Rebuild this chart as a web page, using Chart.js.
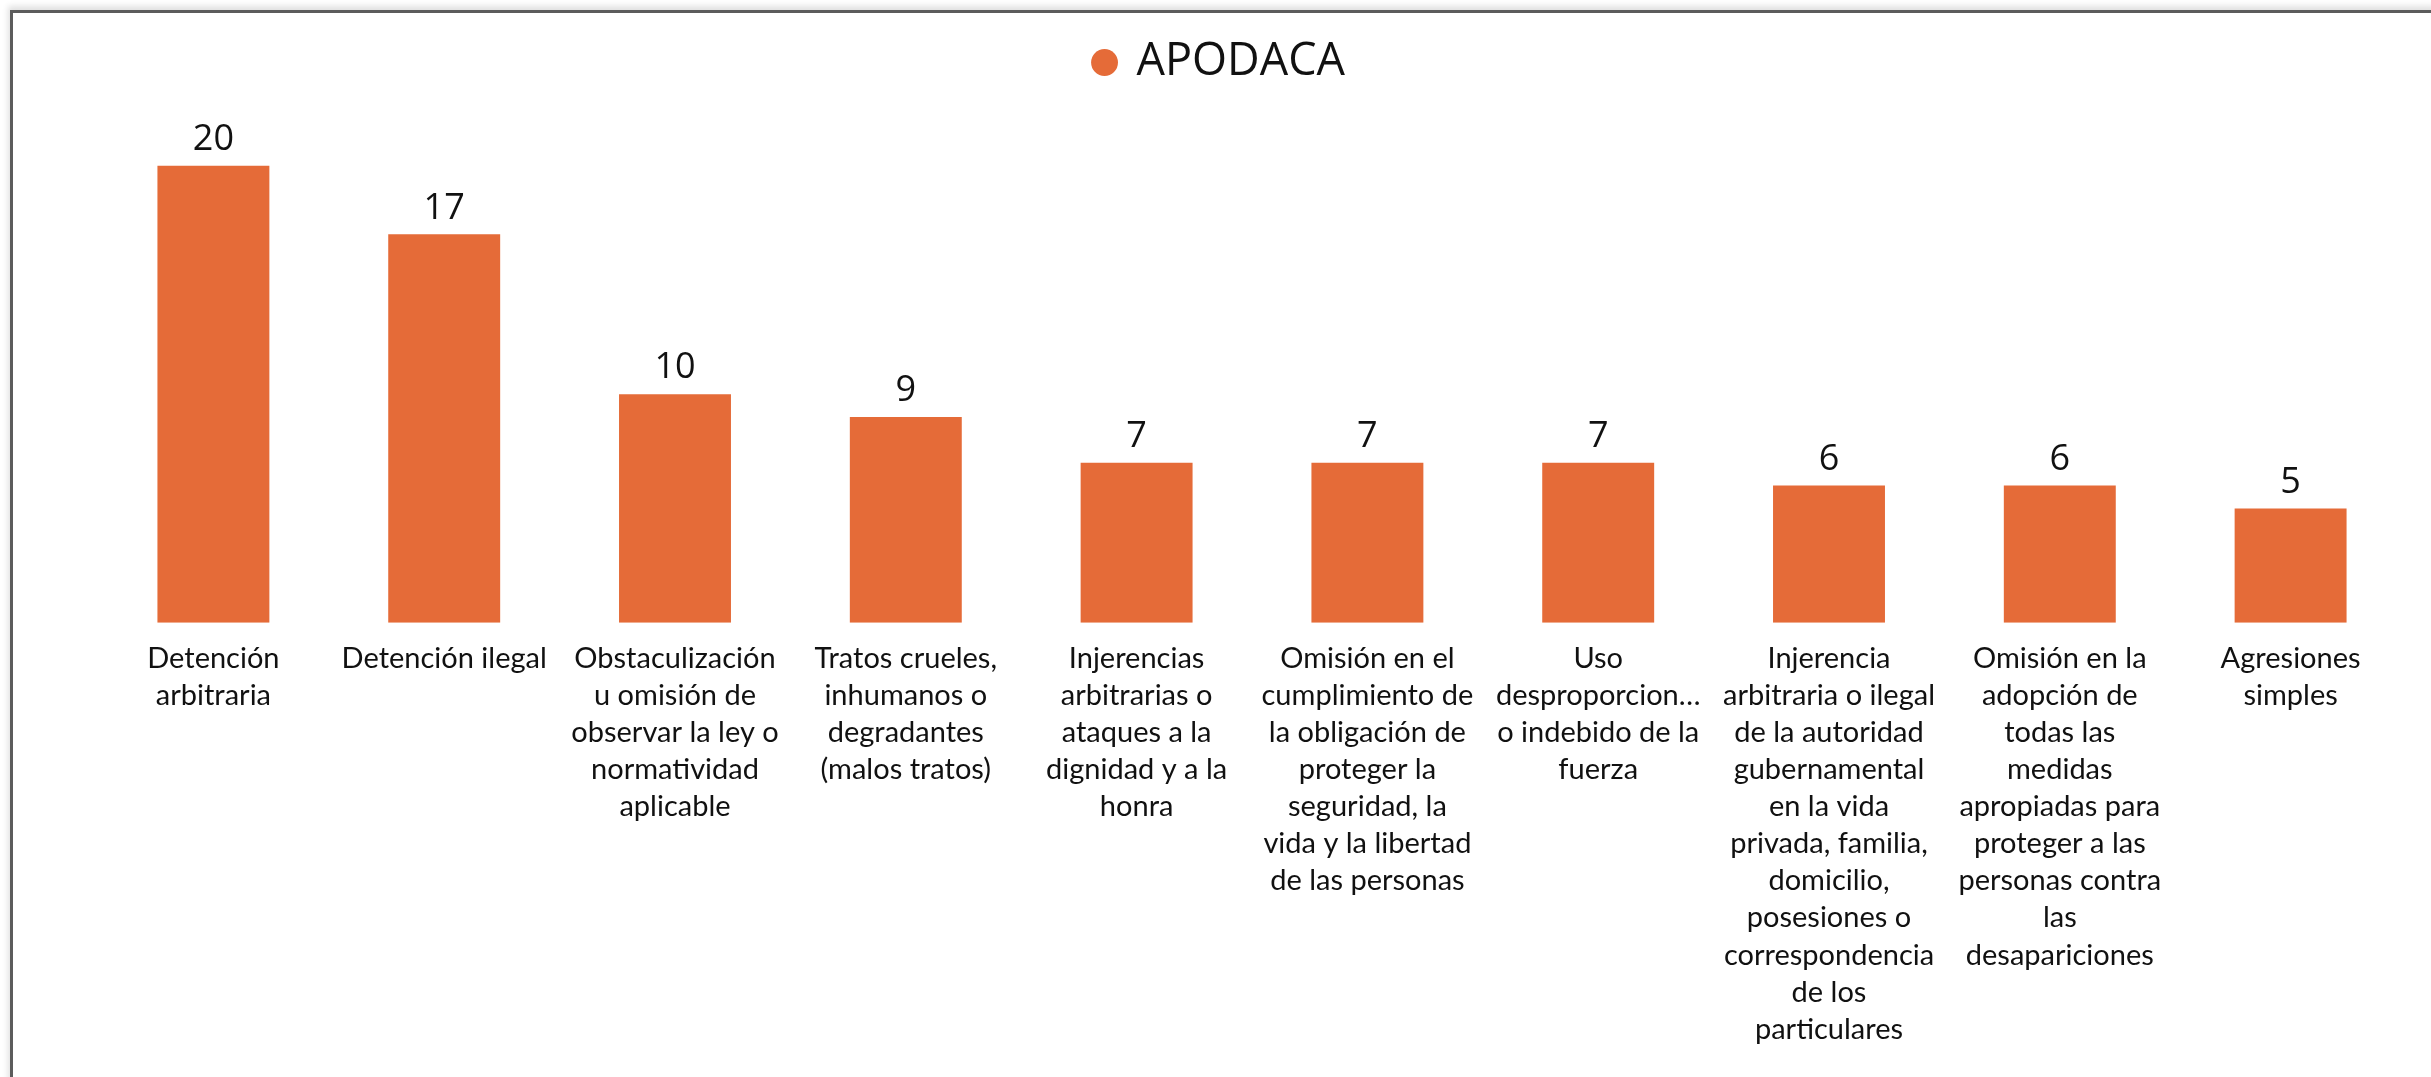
<!DOCTYPE html>
<html>
<head>
<meta charset="utf-8">
<script src="https://cdn.jsdelivr.net/npm/chart.js@4/dist/chart.umd.min.js"></script>
<style>
  html, body { margin: 0; padding: 0; background: #fff; overflow: hidden; }
  #wrap { position: relative; width: 2431px; height: 1077px; }
  #frame {
    position: absolute; left: 10px; top: 10px; width: 2500px; height: 1200px;
    border-left: 3px solid #5c5c5c; border-top: 3px solid #5c5c5c;
    box-shadow: -2px -4px 6px rgba(0, 0, 0, 0.12);
    pointer-events: none;
  }
</style>
</head>
<body>
<div id="wrap">
  <canvas id="chart" width="2431" height="1077"></canvas>
  <div id="frame"></div>
</div>
<script>
const seriesName = 'APODACA';

const categories = [
  ['Detención', 'arbitraria'],
  ['Detención ilegal'],
  ['Obstaculización', 'u omisión de', 'observar la ley o', 'normatividad', 'aplicable'],
  ['Tratos crueles,', 'inhumanos o', 'degradantes', '(malos tratos)'],
  ['Injerencias', 'arbitrarias o', 'ataques a la', 'dignidad y a la', 'honra'],
  ['Omisión en el', 'cumplimiento de', 'la obligación de', 'proteger la', 'seguridad, la', 'vida y la libertad', 'de las personas'],
  ['Uso', 'desproporcion…', 'o indebido de la', 'fuerza'],
  ['Injerencia', 'arbitraria o ilegal', 'de la autoridad', 'gubernamental', 'en la vida', 'privada, familia,', 'domicilio,', 'posesiones o', 'correspondencia', 'de los', 'particulares'],
  ['Omisión en la', 'adopción de', 'todas las', 'medidas', 'apropiadas para', 'proteger a las', 'personas contra', 'las', 'desapariciones'],
  ['Agresiones', 'simples']
];

const values = [20, 17, 10, 9, 7, 7, 7, 6, 6, 5];

const barColor = '#E56B38';
const labelFont = "Lato, sans-serif";

// draws the number above each bar
const valueLabels = {
  id: 'valueLabels',
  afterDatasetsDraw(chart) {
    const ctx = chart.ctx;
    const meta = chart.getDatasetMeta(0);
    ctx.save();
    ctx.font = "36px 'Open Sans', sans-serif";
    ctx.fillStyle = '#111';
    ctx.textAlign = 'center';
    ctx.textBaseline = 'bottom';
    meta.data.forEach((bar, i) => {
      ctx.fillText(String(values[i]), bar.x, bar.y - 8);
    });
    ctx.restore();
  }
};

// legend in the original sits a little left of the plot centre
const legendShift = {
  id: 'legendShift',
  afterUpdate(chart) {
    const lg = chart.legend;
    if (!lg) return;
    lg.left -= 32;
    lg.right -= 32;
    lg.adjustHitBoxes();
  }
};

new Chart(document.getElementById('chart'), {
  type: 'bar',
  data: {
    labels: categories,
    datasets: [{
      label: seriesName,
      data: values,
      backgroundColor: barColor,
      categoryPercentage: 1,
      barPercentage: 0.485
    }]
  },
  options: {
    responsive: false,
    animation: false,
    layout: { padding: { left: 98, right: 25, top: 30, bottom: 20 } },
    plugins: {
      legend: {
        labels: {
          usePointStyle: true,
          pointStyle: 'circle',
          boxWidth: 19,
          boxHeight: 19,
          color: '#111',
          font: { family: "'Open Sans', sans-serif", size: 45 }
        }
      },
      tooltip: { enabled: false }
    },
    scales: {
      x: {
        grid: { display: false },
        border: { display: false },
        ticks: {
          maxRotation: 0,
          autoSkip: false,
          padding: 9,
          color: '#111',
          font: { family: labelFont, size: 29, lineHeight: 1.28 }
        }
      },
      y: {
        display: false,
        min: 0,
        max: 23.1
      }
    }
  },
  plugins: [valueLabels, legendShift]
});
</script>
</body>
</html>
